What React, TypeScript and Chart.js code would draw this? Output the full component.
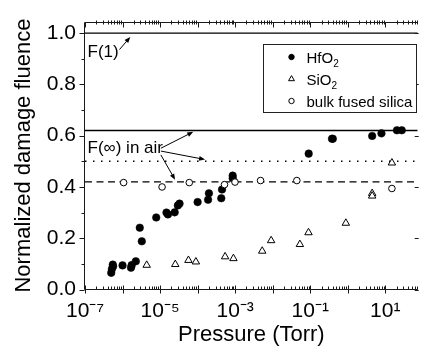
import React, { useEffect, useRef } from 'react';
import { Chart, registerables } from 'chart.js';

Chart.register(...registerables);

const FONT = "'Liberation Sans', Arial, sans-serif";

// Axis ranges
const X_MIN = 1e-7;
const X_MAX = 73;
const Y_MIN = 0;
const Y_MAX = 1.045;

// Tick definitions
const yTickValues = [0, 0.2, 0.4, 0.6, 0.8, 1.0];
const yMinorValues = [0.1, 0.3, 0.5, 0.7, 0.9];
const xDecades = [-7, -6, -5, -4, -3, -2, -1, 0, 1];
const xLabelExps = [-7, -5, -3, -1, 1];

// HfO2 (filled circles)
const hfo2X = [5.0e-7, 5.2e-7, 5.5e-7, 5.6e-7, 1.0e-6, 1.68e-6, 1.75e-6, 2.26e-6, 2.88e-6, 3.26e-6, 7.9e-6, 1.48e-5, 1.62e-5, 2.45e-5, 2.98e-5, 3.3e-5, 1.0e-4, 1.9e-4, 2.0e-4, 4.27e-4, 4.47e-4, 8.6e-4, 8.6e-4, 0.091, 0.38, 0.40, 4.47, 7.9, 20.4, 27.5];
const hfo2Y = [0.065, 0.08, 0.097, 0.09, 0.094, 0.085, 0.095, 0.11, 0.241, 0.188, 0.281, 0.30, 0.293, 0.301, 0.328, 0.335, 0.341, 0.35, 0.375, 0.356, 0.39, 0.444, 0.434, 0.53, 0.588, 0.588, 0.599, 0.609, 0.621, 0.621];

// SiO2 (open triangles)
const sio2X = [4.4e-6, 2.54e-5, 5.7e-5, 9.0e-5, 5.4e-4, 9.0e-4, 5.26e-3, 9.1e-3, 5.3e-2, 9.0e-2, 0.89, 4.47, 4.47, 15.0];
const sio2Y = [0.095, 0.098, 0.114, 0.108, 0.128, 0.121, 0.150, 0.191, 0.176, 0.222, 0.259, 0.375, 0.365, 0.494];

// bulk fused silica (open circles)
const bulkX = [1.07e-6, 1.13e-5, 6.0e-5, 5.2e-4, 9.9e-4, 4.75e-3, 4.4e-2, 15.0];
const bulkY = [0.417, 0.40, 0.417, 0.409, 0.419, 0.425, 0.425, 0.394];

// Reference levels
const levelValues = [1.0, 0.62, 0.5, 0.42];
const levelDashes = [[], [], [1.5, 6.5], [7, 4.5]];

// Annotations (data space)
const annoTexts = ['F(1)', 'F(\u221E) in air'];
const annoTextX = [1.17e-7, 1.17e-7];
const annoTextY = [0.908, 0.534];
const arrowFromX = [8.3e-7, 1.05e-5, 1.05e-5, 1.05e-5];
const arrowFromY = [0.936, 0.551, 0.540, 0.525];
const arrowToX = [1.61e-6, 7.67e-5, 1.58e-4, 2.51e-5];
const arrowToY = [0.985, 0.615, 0.507, 0.428];

// Legend
const legendNames = ['HfO', 'SiO', 'bulk fused silica'];
const legendSubs = ['2', '2', ''];
const legendStyles = ['fill', 'triangle', 'open'];

const SUP: Record<string, string> = { '-': '\u207B', '0': '\u2070', '1': '\u00B9', '2': '\u00B2', '3': '\u00B3', '4': '\u2074', '5': '\u2075', '6': '\u2076', '7': '\u2077', '8': '\u2078', '9': '\u2079' };
const sup = (n: number) => String(n).split('').map((c) => SUP[c] || c).join('');

const toPts = (xs: number[], ys: number[]) => xs.map((x, i) => ({ x, y: ys[i] }));

function drawMarker(ctx: CanvasRenderingContext2D, style: string, cx: number, cy: number, r: number) {
  ctx.beginPath();
  if (style === 'triangle') {
    let rad = 0;
    ctx.moveTo(cx + Math.sin(rad) * r, cy - Math.cos(rad) * r);
    rad += (2 * Math.PI) / 3;
    ctx.lineTo(cx + Math.sin(rad) * r, cy - Math.cos(rad) * r);
    rad += (2 * Math.PI) / 3;
    ctx.lineTo(cx + Math.sin(rad) * r, cy - Math.cos(rad) * r);
    ctx.closePath();
    ctx.fillStyle = '#fff';
    ctx.fill();
    ctx.stroke();
  } else {
    ctx.arc(cx, cy, r, 0, Math.PI * 2);
    ctx.fillStyle = style === 'fill' ? '#000' : '#fff';
    ctx.fill();
    ctx.stroke();
  }
}

const overlay = {
  id: 'overlay',
  afterDraw(chart: any) {
    const { ctx, chartArea: a, scales } = chart;
    const xs = scales.x;
    const ys = scales.y;
    ctx.save();
    ctx.strokeStyle = '#1a1a1a';
    ctx.lineWidth = 1;
    const L = Math.round(a.left) - 0.5;
    const B = Math.round(a.bottom) - 0.5;
    const T = Math.round(a.top) + 0.5;
    const R = a.right;
    ctx.beginPath();
    ctx.moveTo(L, T);
    ctx.lineTo(L, B);
    ctx.moveTo(L, B);
    ctx.lineTo(R, B);
    ctx.moveTo(L, T);
    ctx.lineTo(R, T);
    // y ticks
    yTickValues.forEach((v) => {
      const p = Math.round(ys.getPixelForValue(v)) + 0.5;
      ctx.moveTo(L - 5, p);
      ctx.lineTo(L, p);
      ctx.moveTo(R + 1, p);
      ctx.lineTo(R - 3, p);
    });
    yMinorValues.forEach((v) => {
      const p = Math.round(ys.getPixelForValue(v)) + 0.5;
      ctx.moveTo(L - 3, p);
      ctx.lineTo(L, p);
    });
    // x ticks
    xDecades.forEach((e) => {
      for (let m = 1; m <= 9; m++) {
        const v = m * Math.pow(10, e);
        if (v > X_MAX) break;
        const p = Math.round(xs.getPixelForValue(v)) + 0.5;
        if (m === 1) {
          ctx.moveTo(p, B - 4);
          ctx.lineTo(p, B + 4);
          ctx.moveTo(p, T);
          ctx.lineTo(p, T + 5);
        } else {
          ctx.moveTo(p, B - 3);
          ctx.lineTo(p, B);
          ctx.moveTo(p, T - 2);
          ctx.lineTo(p, T + 2);
        }
      }
    });
    ctx.stroke();

    // annotations
    ctx.fillStyle = '#000';
    ctx.font = `17px ${FONT}`;
    ctx.textAlign = 'left';
    ctx.textBaseline = 'alphabetic';
    annoTexts.forEach((t, i) => {
      ctx.fillText(t, xs.getPixelForValue(annoTextX[i]), ys.getPixelForValue(annoTextY[i]));
    });
    ctx.strokeStyle = '#000';
    ctx.lineWidth = 1;
    arrowFromX.forEach((fx, i) => {
      const x0 = xs.getPixelForValue(fx);
      const y0 = ys.getPixelForValue(arrowFromY[i]);
      const x1 = xs.getPixelForValue(arrowToX[i]);
      const y1 = ys.getPixelForValue(arrowToY[i]);
      const ang = Math.atan2(y1 - y0, x1 - x0);
      const hl = 6;
      const hw = 2.4;
      ctx.beginPath();
      ctx.moveTo(x0, y0);
      ctx.lineTo(x1 - Math.cos(ang) * hl * 0.6, y1 - Math.sin(ang) * hl * 0.6);
      ctx.stroke();
      ctx.beginPath();
      ctx.moveTo(x1, y1);
      ctx.lineTo(x1 - Math.cos(ang) * hl - Math.sin(ang) * hw, y1 - Math.sin(ang) * hl + Math.cos(ang) * hw);
      ctx.lineTo(x1 - Math.cos(ang) * hl + Math.sin(ang) * hw, y1 - Math.sin(ang) * hl - Math.cos(ang) * hw);
      ctx.closePath();
      ctx.fill();
    });

    // legend
    const bx = Math.round(a.right) - 154.5;
    const by = Math.round(a.top) + 22.5;
    const bw = 153;
    const bh = 68;
    ctx.fillStyle = '#fff';
    ctx.fillRect(bx, by, bw, bh);
    ctx.strokeStyle = '#222';
    ctx.lineWidth = 1;
    ctx.strokeRect(bx, by, bw, bh);
    legendNames.forEach((name, i) => {
      const rowY = by + 12.5 + i * 22;
      ctx.strokeStyle = '#000';
      ctx.lineWidth = 1;
      drawMarker(ctx, legendStyles[i], bx + 28, rowY, legendStyles[i] === 'triangle' ? 3.4 : 2.7);
      ctx.fillStyle = '#000';
      ctx.font = `15px ${FONT}`;
      ctx.textBaseline = 'alphabetic';
      ctx.textAlign = 'left';
      const tx = bx + 43;
      const base = rowY + 5.5;
      ctx.fillText(name, tx, base);
      if (legendSubs[i]) {
        const w = ctx.measureText(name).width;
        ctx.font = `10px ${FONT}`;
        ctx.fillText(legendSubs[i], tx + w, base + 4);
      }
    });
    ctx.restore();
  },
};

export default function App() {
  const ref = useRef<HTMLCanvasElement | null>(null);
  useEffect(() => {
    if (!ref.current) return;
    const levelSets = levelValues.map((v, i) => ({
      type: 'line' as const,
      data: [{ x: X_MIN, y: v }, { x: X_MAX, y: v }],
      borderColor: '#000',
      borderWidth: 1.4,
      borderDash: levelDashes[i],
      pointRadius: 0,
      showLine: true,
      fill: false,
      order: 10,
    }));
    const chart = new Chart(ref.current, {
      type: 'scatter',
      data: {
        datasets: [
          ...levelSets,
          {
            label: 'HfO2',
            data: toPts(hfo2X, hfo2Y),
            pointStyle: 'circle',
            pointRadius: 3.8,
            backgroundColor: '#000',
            borderColor: '#000',
            borderWidth: 0.5,
            order: 3,
          },
          {
            label: 'SiO2',
            data: toPts(sio2X, sio2Y),
            pointStyle: 'triangle',
            pointRadius: 4.3,
            backgroundColor: '#fff',
            borderColor: '#000',
            borderWidth: 1,
            order: 2,
          },
          {
            label: 'bulk fused silica',
            data: toPts(bulkX, bulkY),
            pointStyle: 'circle',
            pointRadius: 3.3,
            backgroundColor: '#fff',
            borderColor: '#000',
            borderWidth: 1,
            order: 1,
          },
        ] as any,
      },
      options: {
        animation: false,
        responsive: false,
        events: [],
        layout: { padding: { top: 10, left: 0, right: 0, bottom: 0 } },
        plugins: { legend: { display: false }, tooltip: { enabled: false } },
        scales: {
          x: {
            type: 'logarithmic',
            min: X_MIN,
            max: X_MAX,
            grid: { display: false, drawTicks: false },
            border: { display: false },
            afterBuildTicks: (s: any) => {
              s.ticks = xDecades.map((e) => ({ value: Math.pow(10, e) }));
            },
            afterFit: (s: any) => {
              s.height = 58.5;
            },
            ticks: {
              autoSkip: false,
              maxRotation: 0,
              minRotation: 0,
              padding: 9,
              color: '#000',
              font: { family: FONT, size: 21 },
              callback: (v: any) => {
                const e = Math.round(Math.log10(Number(v)));
                return xLabelExps.includes(e) ? '10' + sup(e) : '';
              },
            },
            title: {
              display: true,
              text: 'Pressure (Torr)',
              color: '#000',
              font: { family: FONT, size: 22 },
              padding: { top: 2, bottom: 0 },
            },
          },
          y: {
            type: 'linear',
            min: Y_MIN,
            max: Y_MAX,
            grid: { display: false, drawTicks: false },
            border: { display: false },
            afterBuildTicks: (s: any) => {
              s.ticks = yTickValues.map((v) => ({ value: v }));
            },
            afterFit: (s: any) => {
              s.width = 85;
            },
            ticks: {
              padding: 9,
              color: '#000',
              font: { family: FONT, size: 21 },
              callback: (v: any) => Number(v).toFixed(1),
            },
            title: {
              display: true,
              text: 'Normalized damage fluence',
              color: '#000',
              font: { family: FONT, size: 22 },
              padding: { top: 11, bottom: 0 },
            },
          },
        },
      } as any,
      plugins: [overlay],
    });
    return () => chart.destroy();
  }, []);
  return (
    <div style={{ position: 'absolute', left: 0, top: 0, width: 423, height: 348, overflow: 'hidden', background: '#fff' }}>
      <canvas ref={ref} width={423} height={348} style={{ display: 'block' }} />
    </div>
  );
}
